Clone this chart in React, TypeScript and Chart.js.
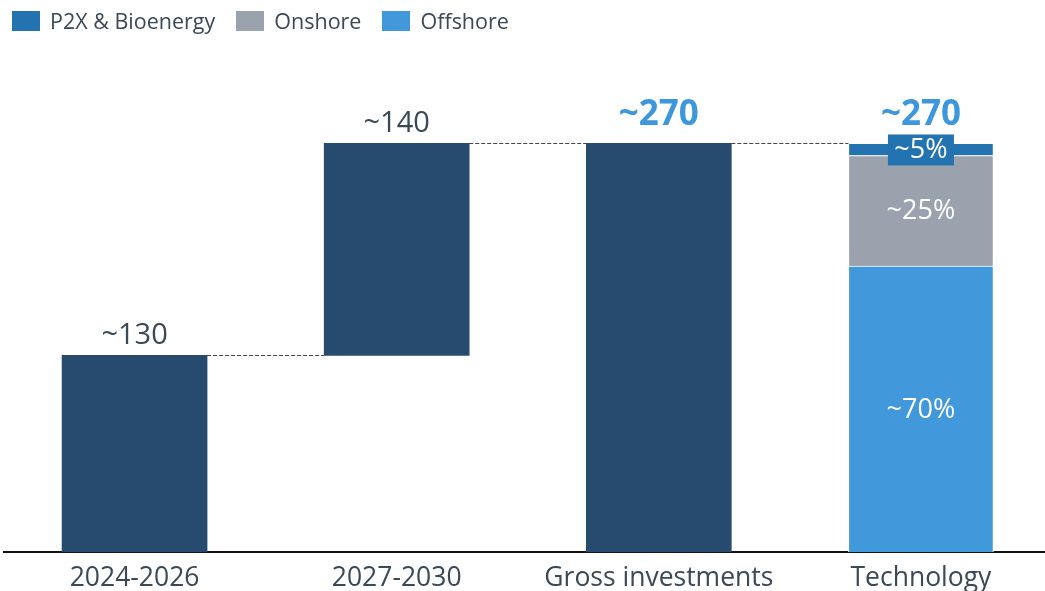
import React, { useEffect, useRef } from 'react';
import { Chart, registerables } from 'chart.js';

Chart.register(...registerables);

const categories = ['2024-2026', '2027-2030', 'Gross investments', 'Technology'];
const periodStart: (number | null)[] = [0, 130, 0, null];
const periodEnd: (number | null)[] = [130, 270, 270, null];
const totalLabels = ['~130', '~140', '~270', '~270'];
const offshoreValues: (number | null)[] = [null, null, null, 189];
const onshoreValues: (number | null)[] = [null, null, null, 73];
const p2xValues: (number | null)[] = [null, null, null, 8];
const shareLabels = ['~70%', '~25%', '~5%'];
const legendLabels = ['P2X & Bioenergy', 'Onshore', 'Offshore'];

const NAVY = '#264b6e';
const OFFSHORE = '#4198da';
const ONSHORE = '#9aa3ad';
const P2X = '#2473b1';
const TEXT = '#3b4856';
const HILITE = '#3d97dc';
const FONT = "'Open Sans', sans-serif";

const legendColors = [P2X, ONSHORE, OFFSHORE];

function floating(starts: (number | null)[], ends: (number | null)[]) {
  return starts.map((s, i) => (s == null || ends[i] == null ? null : [s, ends[i] as number]));
}

export default function App() {
  const canvasRef = useRef<HTMLCanvasElement | null>(null);

  useEffect(() => {
    document.body.style.margin = '0';
    document.body.style.overflow = 'hidden';
    const canvas = canvasRef.current;
    if (!canvas) return;

    const offStart = offshoreValues.map((v) => (v == null ? null : 0));
    const offEnd = offshoreValues.map((v) => v);
    const onStart = offEnd;
    const onEnd = onshoreValues.map((v, i) => (v == null ? null : (offEnd[i] as number) + v));
    const p2Start = onEnd;
    const p2End = p2xValues.map((v, i) => (v == null ? null : (onEnd[i] as number) + v));

    const annotate = {
      id: 'annotate',
      afterDatasetsDraw(chart: any) {
        const ctx = chart.ctx as CanvasRenderingContext2D;
        const xs = chart.scales.x;
        const ys = chart.scales.y;
        const mainMeta = chart.getDatasetMeta(0).data;
        const half = mainMeta[0].width / 2;

        // connectors
        ctx.save();
        ctx.setLineDash([4, 2]);
        ctx.strokeStyle = '#444';
        ctx.lineWidth = 1;
        const levels = [periodEnd[0], periodEnd[1], periodEnd[2]];
        for (let i = 0; i < 3; i++) {
          const y = Math.round(ys.getPixelForValue(levels[i] as number)) + 0.5;
          const x1 = xs.getPixelForValue(i) + half;
          const x2 = xs.getPixelForValue(i + 1) - half;
          ctx.beginPath();
          ctx.moveTo(x1, y);
          ctx.lineTo(x2, y);
          ctx.stroke();
        }
        ctx.restore();

        // total labels
        ctx.save();
        ctx.textAlign = 'center';
        ctx.textBaseline = 'alphabetic';
        const tops = [periodEnd[0], periodEnd[1], periodEnd[2], p2End[3]];
        for (let i = 0; i < 4; i++) {
          const x = xs.getPixelForValue(i);
          const y = ys.getPixelForValue(tops[i] as number);
          if (i < 2) {
            ctx.font = `29px ${FONT}`;
            ctx.fillStyle = TEXT;
            ctx.fillText(totalLabels[i], x, y - 11);
          } else {
            ctx.font = `bold 35px ${FONT}`;
            ctx.fillStyle = HILITE;
            ctx.fillText(totalLabels[i], x, y - 18);
          }
        }
        ctx.restore();

        // share labels
        ctx.save();
        ctx.textAlign = 'center';
        ctx.textBaseline = 'middle';
        ctx.font = `27px ${FONT}`;
        const segs = [
          [offStart[3], offEnd[3]],
          [onStart[3], onEnd[3]],
          [p2Start[3], p2End[3]],
        ];
        const xt = xs.getPixelForValue(3);
        segs.forEach((s, k) => {
          const yc = (ys.getPixelForValue(s[0] as number) + ys.getPixelForValue(s[1] as number)) / 2;
          if (k === 2) {
            ctx.fillStyle = P2X;
            ctx.fillRect(xt - 33, yc - 15, 66, 31);
          }
          ctx.fillStyle = '#ffffff';
          ctx.fillText(shareLabels[k], xt, yc + 1);
        });
        ctx.restore();
      },
    };

    const common = { grouped: false, barThickness: 145 };

    const chart = new Chart(canvas, {
      type: 'bar',
      data: {
        labels: categories,
        datasets: [
          { label: 'Investments', data: floating(periodStart, periodEnd) as any, backgroundColor: NAVY, borderWidth: 0, ...common },
          { label: legendLabels[2], data: floating(offStart, offEnd) as any, backgroundColor: OFFSHORE, borderColor: '#ffffff', borderWidth: 1, borderSkipped: 'bottom', ...common },
          { label: legendLabels[1], data: floating(onStart, onEnd) as any, backgroundColor: ONSHORE, borderColor: '#ffffff', borderWidth: 1, borderSkipped: 'bottom', ...common },
          { label: legendLabels[0], data: floating(p2Start, p2End) as any, backgroundColor: P2X, borderColor: '#ffffff', borderWidth: 1, borderSkipped: 'bottom', ...common },
        ],
      },
      options: {
        responsive: false,
        animation: false,
        devicePixelRatio: 1,
        layout: { padding: { top: 98, left: 3.5, right: 0, bottom: -13 } },
        plugins: { legend: { display: false }, tooltip: { enabled: false } },
        scales: {
          x: {
            grid: { display: false, drawTicks: false },
            border: { display: true, color: '#111111', width: 2 },
            ticks: { color: TEXT, font: { family: FONT, size: 26.5 }, padding: 10 },
          },
          y: { display: false, min: 0, max: 300 },
        },
      },
      plugins: [annotate],
    });

    return () => chart.destroy();
  }, []);

  return (
    <div style={{ position: 'relative', width: 1045, height: 591, overflow: 'hidden' }}>
      <canvas ref={canvasRef} width={1052} height={591} style={{ display: 'block' }} />
      <div
        style={{
          position: 'absolute',
          left: 12,
          top: 10,
          display: 'flex',
          alignItems: 'center',
          fontFamily: FONT,
          fontSize: 21.5,
          color: TEXT,
          lineHeight: '21px',
        }}
      >
        {legendLabels.map((t, i) => (
          <div key={t} style={{ display: 'flex', alignItems: 'center', marginRight: 21 }}>
            <span style={{ display: 'inline-block', width: 28, height: 20, background: legendColors[i], marginRight: 10 }} />
            <span>{t}</span>
          </div>
        ))}
      </div>
    </div>
  );
}
